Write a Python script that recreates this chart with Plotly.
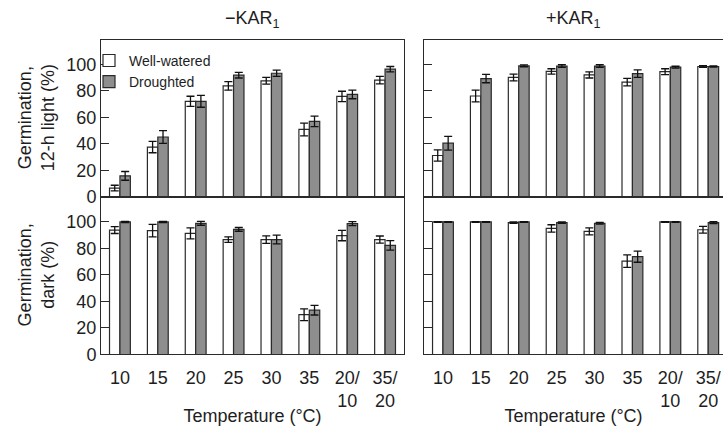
import plotly.graph_objects as go

# ---------------- data ----------------
categories = ["10", "15", "20", "25", "30", "35", "20/<br>10", "35/<br>20"]

light_minus_ww = [6.6, 37.6, 72.2, 83.8, 87.7, 50.9, 75.9, 88.2]
light_minus_ww_err = [2.1, 4.3, 3.8, 3.2, 2.6, 4.8, 3.9, 2.8]
light_minus_dr = [15.8, 45.2, 72.2, 91.9, 93.4, 57.0, 77.4, 96.5]
light_minus_dr_err = [3.3, 4.8, 4.5, 2.1, 2.3, 3.9, 3.3, 2.0]

light_plus_ww = [31.2, 76.2, 90.2, 94.8, 92.1, 86.7, 94.6, 98.5]
light_plus_ww_err = [4.2, 4.4, 2.5, 2.0, 2.3, 2.8, 2.2, 0.7]
light_plus_dr = [40.5, 89.4, 99.0, 98.8, 98.8, 93.1, 98.0, 98.5]
light_plus_dr_err = [5.2, 3.2, 0.7, 1.0, 1.0, 2.8, 0.7, 0.5]

dark_minus_ww = [93.9, 93.4, 91.4, 86.7, 86.7, 30.0, 89.7, 86.7]
dark_minus_ww_err = [2.6, 4.7, 4.2, 2.1, 2.8, 4.4, 3.9, 2.7]
dark_minus_dr = [100, 100, 99.0, 94.4, 86.7, 33.4, 98.8, 82.3]
dark_minus_dr_err = [0.5, 0.5, 1.5, 1.4, 3.3, 3.6, 1.5, 3.6]

dark_plus_ww = [100, 100, 99.5, 95.1, 92.9, 70.5, 100, 94.1]
dark_plus_ww_err = [0.3, 0.3, 0.5, 2.8, 2.7, 4.7, 0.3, 2.5]
dark_plus_dr = [100, 100, 100, 99.5, 99.0, 73.8, 100, 99.5]
dark_plus_dr_err = [0.3, 0.3, 0.3, 0.5, 0.7, 4.2, 0.3, 0.7]

series_names = ["Well-watered", "Droughted"]
y_ticks = [0, 20, 40, 60, 80, 100]

# ---------------- styling ----------------
W, H = 723, 426
FONT = "Liberation Sans, Arial, Helvetica, sans-serif"
TXT = "#1e1e1e"
LINE = "#2a2a2a"
FILL_WW = "#ffffff"
FILL_DR = "#8e8e8e"

fig = go.Figure()

panels = [
    # (xaxis, yaxis, ww, ww_err, dr, dr_err, legend)
    ("x", "y", light_minus_ww, light_minus_ww_err, light_minus_dr, light_minus_dr_err, True),
    ("x2", "y2", light_plus_ww, light_plus_ww_err, light_plus_dr, light_plus_dr_err, False),
    ("x3", "y3", dark_minus_ww, dark_minus_ww_err, dark_minus_dr, dark_minus_dr_err, False),
    ("x4", "y4", dark_plus_ww, dark_plus_ww_err, dark_plus_dr, dark_plus_dr_err, False),
]

for xa, ya, ww, wwe, dr, dre, leg in panels:
    for name, vals, errs, fill in [
        (series_names[0], ww, wwe, FILL_WW),
        (series_names[1], dr, dre, FILL_DR),
    ]:
        fig.add_trace(go.Bar(
            x=categories, y=vals, name=name, xaxis=xa, yaxis=ya,
            marker=dict(color=fill, line=dict(color=LINE, width=1.2)),
            error_y=dict(type="data", array=errs, visible=True,
                         color="#111111", thickness=1.3, width=4),
            showlegend=leg, legendgroup=name,
        ))

def px_x(p):
    return p / W

def px_y(p):
    return 1 - p / H

x_left = [px_x(101), px_x(404)]
x_right = [px_x(424), 1.0]
y_top = [px_y(201.5), px_y(41)]
y_bot = [px_y(363), px_y(201.5)]

common_x = dict(type="category", showline=True, linecolor=LINE, linewidth=1,
                ticks="", showgrid=False, zeroline=False, mirror=True,
                tickfont=dict(family=FONT, size=18, color=TXT))
common_y = dict(showline=True, linecolor=LINE, linewidth=1, ticks="inside",
                ticklen=8, tickcolor=LINE, tickwidth=1, tickvals=y_ticks,
                showgrid=False, zeroline=False,
                tickfont=dict(family=FONT, size=18, color=TXT))

fig.update_layout(
    width=W, height=H, autosize=False,
    margin=dict(l=0, r=0, t=0, b=0),
    paper_bgcolor="white", plot_bgcolor="white",
    barmode="group", bargap=0.45, bargroupgap=0.0,
    font=dict(family=FONT, color=TXT),
    xaxis=dict(common_x, domain=x_left, anchor="y", range=[-0.5, 7.5], showticklabels=False),
    yaxis=dict(common_y, domain=y_top, anchor="x", range=[0, 118.5], mirror=True),
    xaxis2=dict(common_x, domain=x_right, anchor="y2", range=[-0.5, 7.39], showticklabels=False),
    yaxis2=dict(common_y, domain=y_top, anchor="x2", range=[0, 118.5], showticklabels=False, mirror=False),
    xaxis3=dict(common_x, domain=x_left, anchor="y3", range=[-0.5, 7.5], showticklabels=True,
                ticklabelstandoff=7,
                title=dict(text="Temperature (°C)", font=dict(family=FONT, size=18, color=TXT), standoff=2)),
    yaxis3=dict(common_y, domain=y_bot, anchor="x3", range=[0, 119], mirror=True),
    xaxis4=dict(common_x, domain=x_right, anchor="y4", range=[-0.5, 7.39], showticklabels=True,
                ticklabelstandoff=7,
                title=dict(text="Temperature (°C)", font=dict(family=FONT, size=18, color=TXT), standoff=2)),
    yaxis4=dict(common_y, domain=y_bot, anchor="x4", range=[0, 119], showticklabels=False, mirror=False),
    legend=dict(x=px_x(89), y=px_y(46), xanchor="left", yanchor="top",
                bgcolor="rgba(0,0,0,0)", borderwidth=0,
                font=dict(family=FONT, size=14, color=TXT),
                tracegroupgap=0, itemwidth=30),
    showlegend=True,
)

annotations = [
    dict(text="\u2212KAR<sub>1</sub>", x=px_x(252.5), y=px_y(20), xref="paper", yref="paper",
         showarrow=False, font=dict(family=FONT, size=18, color=TXT), xanchor="center", yanchor="middle"),
    dict(text="+KAR<sub>1</sub>", x=px_x(573), y=px_y(20), xref="paper", yref="paper",
         showarrow=False, font=dict(family=FONT, size=18, color=TXT), xanchor="center", yanchor="middle"),
    dict(text="Germination,<br>12-h light (%)", x=px_x(36), y=px_y(121), xref="paper", yref="paper",
         showarrow=False, textangle=-90, font=dict(family=FONT, size=18, color=TXT),
         xanchor="center", yanchor="middle"),
    dict(text="Germination,<br>dark (%)", x=px_x(36), y=px_y(282), xref="paper", yref="paper",
         showarrow=False, textangle=-90, font=dict(family=FONT, size=18, color=TXT),
         xanchor="center", yanchor="middle"),
]
fig.update_layout(annotations=annotations)

fig.write_html("out.html")
